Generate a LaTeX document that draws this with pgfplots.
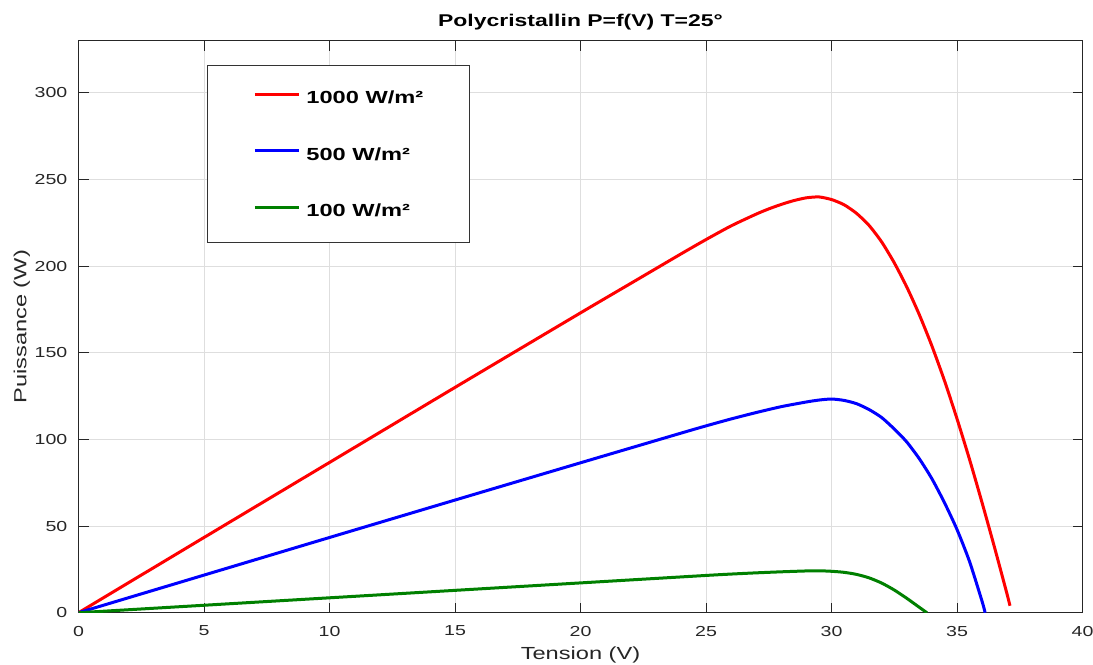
\documentclass[border=0pt]{standalone}
\usepackage{fontspec}
\setmainfont[FakeStretch=1.35]{Liberation Sans}
\usepackage{pgfplots}
\pgfplotsset{compat=1.18}
\usetikzlibrary{calc}
\definecolor{axgray}{rgb}{0.15,0.15,0.15}
\definecolor{mgreen}{rgb}{0,0.5,0}
\begin{document}
\begin{tikzpicture}
\begin{axis}[
  scale only axis,
  width=1004pt, height=571.9pt,
  xmin=0, xmax=40, ymin=0, ymax=330,
  xtick={0,5,...,40}, ytick={0,50,...,300},
  tick align=inside, tick pos=both,
  major tick length=10pt,
  axis line style={draw=axgray, line width=1pt},
  every tick/.style={draw=axgray, line width=1pt},
  grid=major,
  major grid style={draw=black!13, line width=1pt},
  /pgf/number format/assume math mode=true,
  ticklabel style={font=\fontsize{14.5}{16}\selectfont, text=axgray},
  yticklabel style={inner sep=0pt, xshift=-11pt},
  xticklabel style={inner sep=0pt, yshift=-13pt},
  xlabel={Tension (V)},
  ylabel={Puissance (W)},
  label style={font=\fontsize{17.5}{20}\selectfont, text=axgray},
  xlabel style={at={(axis description cs:0.5,-0.0815)}, anchor=base},
  ylabel style={at={(axis description cs:-0.0563,0.5)}, anchor=center},
  title={Polycristallin P=f(V) T=25°},
  title style={font=\fontsize{17}{20}\selectfont\bfseries, at={(axis description cs:0.5,1.015)}, anchor=base, inner sep=0pt},
  legend cell align=left,
  legend image code/.code={\draw[#1] (0pt,0.34em) -- (44pt,0.34em);},
  legend style={at={(axis cs:5.12,316)}, anchor=north west,
    draw=black!80, line width=0.8pt, fill=white,
    font=\fontsize{17.5}{20}\selectfont\bfseries,
    inner xsep=46pt, inner ysep=23.5pt,
    row sep=39.5pt,
    nodes={inner sep=0pt, text height=15pt, text depth=2pt},
    /tikz/every odd column/.append style={column sep=6pt}},
]
\addplot[red, line width=3pt, smooth, tension=0.4] coordinates {
(0,0) (5,43.4) (10,86.7) (15,130) (20,173) (22,190) (24,207) (25,215.3) (26,223.2) (27,230)
(27.5,233) (28,235.6) (28.5,237.8) (29,239.4) (29.5,239.9) (30,238.4) (30.5,235.4) (31,230.4)
(31.5,223.4) (32,213.9) (32.5,201.9) (33,187.9) (33.5,171.9) (34,153.9) (34.5,133.9) (35,111.9)
(35.5,88.4) (36,63.4) (36.5,37.4) (37,10.4) (37.11,4)};
\addlegendentry{1000 W/m²}
\addplot[blue, line width=3pt, smooth, tension=0.4] coordinates {
(0,0) (5,21.7) (10,43.4) (15,65) (20,86.5) (24,103.6) (25,107.8) (26,111.8) (27,115.5)
(28,118.9) (29,121.6) (29.5,122.7) (30,123.3) (30.5,122.5) (31,120.6) (31.5,117.2) (32,112.6)
(32.5,106) (33,98.5) (33.5,88.8) (34,77.3) (34.5,63.5) (35,48) (35.5,29.5) (36,6.5) (36.12,0)};
\addlegendentry{500 W/m²}
\addplot[mgreen, line width=3pt, smooth, tension=0.4] coordinates {
(0,0) (5,4.3) (10,8.6) (15,12.9) (20,17.2) (25,21.5) (26,22.3) (27,23) (28,23.6) (29,24.1)
(29.5,24.2) (30,23.9) (30.5,23.3) (31,22.1) (31.5,20.1) (32,17.1) (32.5,13.1) (33,8.3)
(33.5,3.1) (33.8,0)};
\addlegendentry{100 W/m²}
\end{axis}
\pgfresetboundingbox
\path ($(current axis.south west)+(-78.5pt,-51.3pt)$) rectangle ($(current axis.north east)+(10.5pt,40.8pt)$);
\end{tikzpicture}
\end{document}
